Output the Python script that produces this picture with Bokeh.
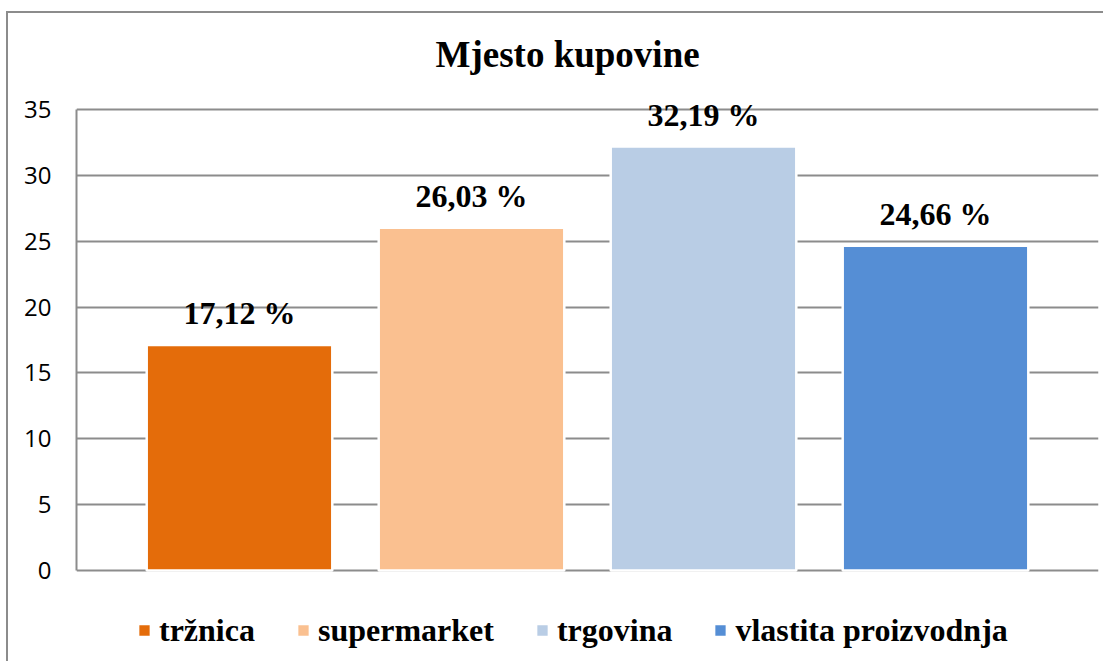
from bokeh.plotting import figure
from bokeh.models import (ColumnDataSource, FactorRange, LabelSet, Legend,
                          LegendItem, Title, FixedTicker, Range1d)
from bokeh.embed import file_html
from bokeh.resources import INLINE

# ---- data ----
categories = ["tržnica", "supermarket", "trgovina", "vlastita proizvodnja"]
values = [17.12, 26.03, 32.19, 24.66]
colors = ["#E46C0A", "#FAC090", "#B9CDE5", "#558ED5"]
y_ticks = [0, 5, 10, 15, 20, 25, 30, 35]
labels = [f"{v:.2f}".replace(".", ",") + " %" for v in values]

SERIF = "Liberation Serif"
GRID = "#8c8c8c"

source = ColumnDataSource(dict(cat=categories, val=values, color=colors, label=labels))

# frame extends above 35 and below 0 so that labels / legend are not clipped
p = figure(
    x_range=FactorRange(*categories, range_padding=0.1013),
    y_range=Range1d(-7.061, 36.974),
    width=1097, height=650,
    output_backend="svg", toolbar_location=None,
    min_border_left=68, min_border_right=7,
    min_border_top=70, min_border_bottom=0,
    styles={"border-left": "2px solid #8c8c8c",
            "border-top": "2px solid #8c8c8c",
            "margin-top": "11px", "margin-left": "6px"},
)
p.outline_line_color = None
p.background_fill_color = "white"
p.border_fill_color = "white"

# axes
p.xaxis.visible = False
p.xgrid.visible = False
p.yaxis.ticker = FixedTicker(ticks=y_ticks)
p.yaxis.bounds = (0, 35)
p.ygrid.ticker = FixedTicker(ticks=y_ticks)
p.ygrid.grid_line_color = GRID
p.ygrid.grid_line_width = 2
p.yaxis.axis_line_color = GRID
p.yaxis.axis_line_width = 2
p.yaxis.major_tick_line_color = None
p.yaxis.minor_tick_line_color = None
p.yaxis.major_tick_out = 0
p.yaxis.major_tick_in = 0
p.yaxis.major_label_standoff = 25
p.yaxis.major_label_text_font = "Open Sans"
p.yaxis.major_label_text_font_size = "24px"
p.yaxis.major_label_text_color = "black"

# bars
r = p.vbar(x="cat", top="val", bottom=0, width=0.8, source=source,
           fill_color="color", line_color="white", line_width=2.5)

# value labels
lbl = LabelSet(x="cat", y="val", text="label", source=source,
               text_align="center", text_baseline="alphabetic", y_offset=21,
               text_font=SERIF, text_font_size="32px", text_font_style="bold",
               text_color="black")
p.add_layout(lbl)

# title
p.add_layout(Title(text="Mjesto kupovine", align="left", offset=359,
                   text_font=SERIF, text_font_size="37px",
                   text_font_style="bold", text_color="black", standoff=18),
             "above")

# legend
items = [LegendItem(label=c, renderers=[r], index=i) for i, c in enumerate(categories)]
legend = Legend(items=items, location=(60, 14.5), orientation="horizontal",
                padding=0, margin=0, spacing=40, label_standoff=7,
                glyph_width=16, glyph_height=16,
                label_text_font=SERIF, label_text_font_size="32px",
                label_text_font_style="bold", label_text_color="black",
                border_line_color=None, background_fill_alpha=0)
p.add_layout(legend)

open("out.html", "w").write(file_html(p, INLINE))
